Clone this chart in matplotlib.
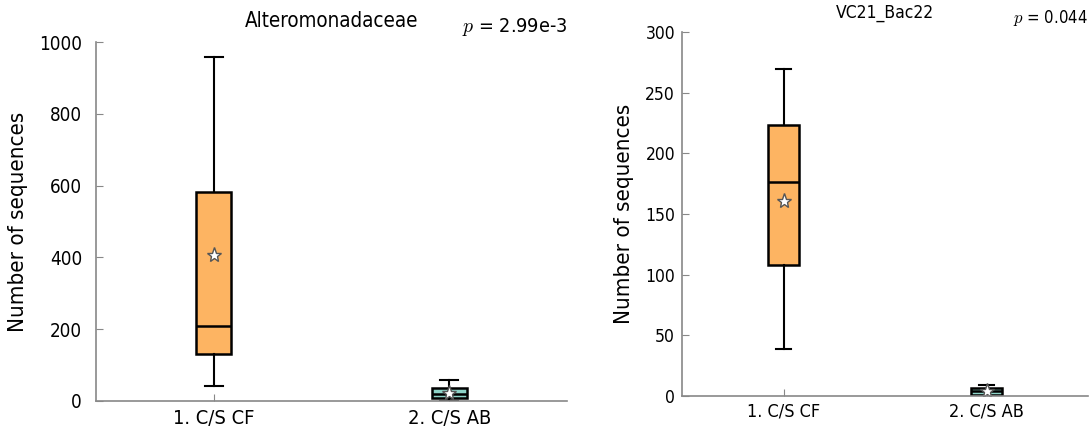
"""
plot.py - two boxplots of sequence counts (C/S CF vs C/S AB) with mean stars and p-values.
"""
import matplotlib; matplotlib.use("Agg"); import matplotlib.pyplot as plt

plt.rcParams["font.family"] = "DejaVu Sans"
plt.rcParams["font.stretch"] = "condensed"
plt.rcParams["mathtext.fontset"] = "cm"

GROUPS = ["1. C/S CF", "2. C/S AB"]
COLORS = ["#fdb462", "#8dd3c7"]

# panel 1: Alteromonadaceae
ALT_WLO = [43, 0]
ALT_Q1 = [130, 8]
ALT_MED = [209, 20]
ALT_Q3 = [581, 36]
ALT_WHI = [957, 58]
ALT_MEAN = [407, 22]

# panel 2: VC21_Bac22
VC_WLO = [39, 0]
VC_Q1 = [107.6, 1]
VC_MED = [176.7, 4]
VC_Q3 = [223, 6.5]
VC_WHI = [269.5, 9]
VC_MEAN = [160.7, 4]

W, H = 1092, 433
fig = plt.figure(figsize=(W / 100, H / 100), dpi=100)


def stats(wlo, q1, med, q3, whi, mean):
    return [dict(whislo=a, q1=b, med=c, q3=d, whishi=e, mean=f, fliers=[], label=g)
            for a, b, c, d, e, f, g in zip(wlo, q1, med, q3, whi, mean, GROUPS)]


def panel(rect, st, ymax, yticks, title, ptxt, tpad, lpad, ylx, ttl_off, p_off,
          ytfs, xtfs, tfs):
    ax = fig.add_axes(rect)
    bp = ax.bxp(st, positions=[1, 2], widths=0.15, showmeans=True, patch_artist=True,
                boxprops=dict(edgecolor="black", linewidth=1.8),
                medianprops=dict(color="black", linewidth=1.8),
                whiskerprops=dict(color="black", linewidth=1.5),
                capprops=dict(color="black", linewidth=1.5),
                meanprops=dict(marker="*", markersize=11, markerfacecolor="white",
                               markeredgecolor="#555555", markeredgewidth=1.0))
    for patch, c in zip(bp["boxes"], COLORS):
        patch.set_facecolor(c)
    ax.set_xlim(0.5, 2.5)
    ax.set_ylim(0, ymax)
    ax.set_yticks(yticks)
    ax.set_xticks([1, 2])
    ax.set_xticklabels(GROUPS)
    for s in ("top", "right"):
        ax.spines[s].set_visible(False)
    for s in ("left", "bottom"):
        ax.spines[s].set_color("#888888")
        ax.spines[s].set_linewidth(1.2)
    ax.tick_params(axis="y", direction="in", length=5, color="#888888", labelsize=ytfs, pad=tpad)
    ax.tick_params(axis="x", direction="in", length=5, color="#888888", labelsize=xtfs, pad=lpad)
    ax.set_ylabel("Number of sequences", fontsize=16)
    ax.yaxis.set_label_coords(ylx, 0.5)
    ax.annotate(title, xy=(0.5, 1), xycoords="axes fraction", xytext=(0, ttl_off),
                textcoords="offset pixels", ha="center", va="center", fontsize=tfs)
    ax.annotate(ptxt, xy=(1, 1), xycoords="axes fraction", xytext=(0, p_off),
                textcoords="offset pixels", ha="right", va="center", fontsize=tfs * 0.96)
    return ax


panel([96 / W, (H - 401) / H, 471 / W, 359 / H],
      stats(ALT_WLO, ALT_Q1, ALT_MED, ALT_Q3, ALT_WHI, ALT_MEAN),
      1000, [0, 200, 400, 600, 800, 1000], "Alteromonadaceae", r"$p$ = 2.99e-3",
      10, 6, -68 / 471, 21, 15, 13.5, 14.4, 14.8)
panel([682 / W, (H - 396) / H, 406 / W, 364 / H],
      stats(VC_WLO, VC_Q1, VC_MED, VC_Q3, VC_WHI, VC_MEAN),
      300, [0, 50, 100, 150, 200, 250, 300], "VC21_Bac22", r"$p$ = 0.044",
      5, 5, -48 / 406, 19, 14, 12.5, 13, 12.5)

fig.savefig("out.png", dpi=100)
